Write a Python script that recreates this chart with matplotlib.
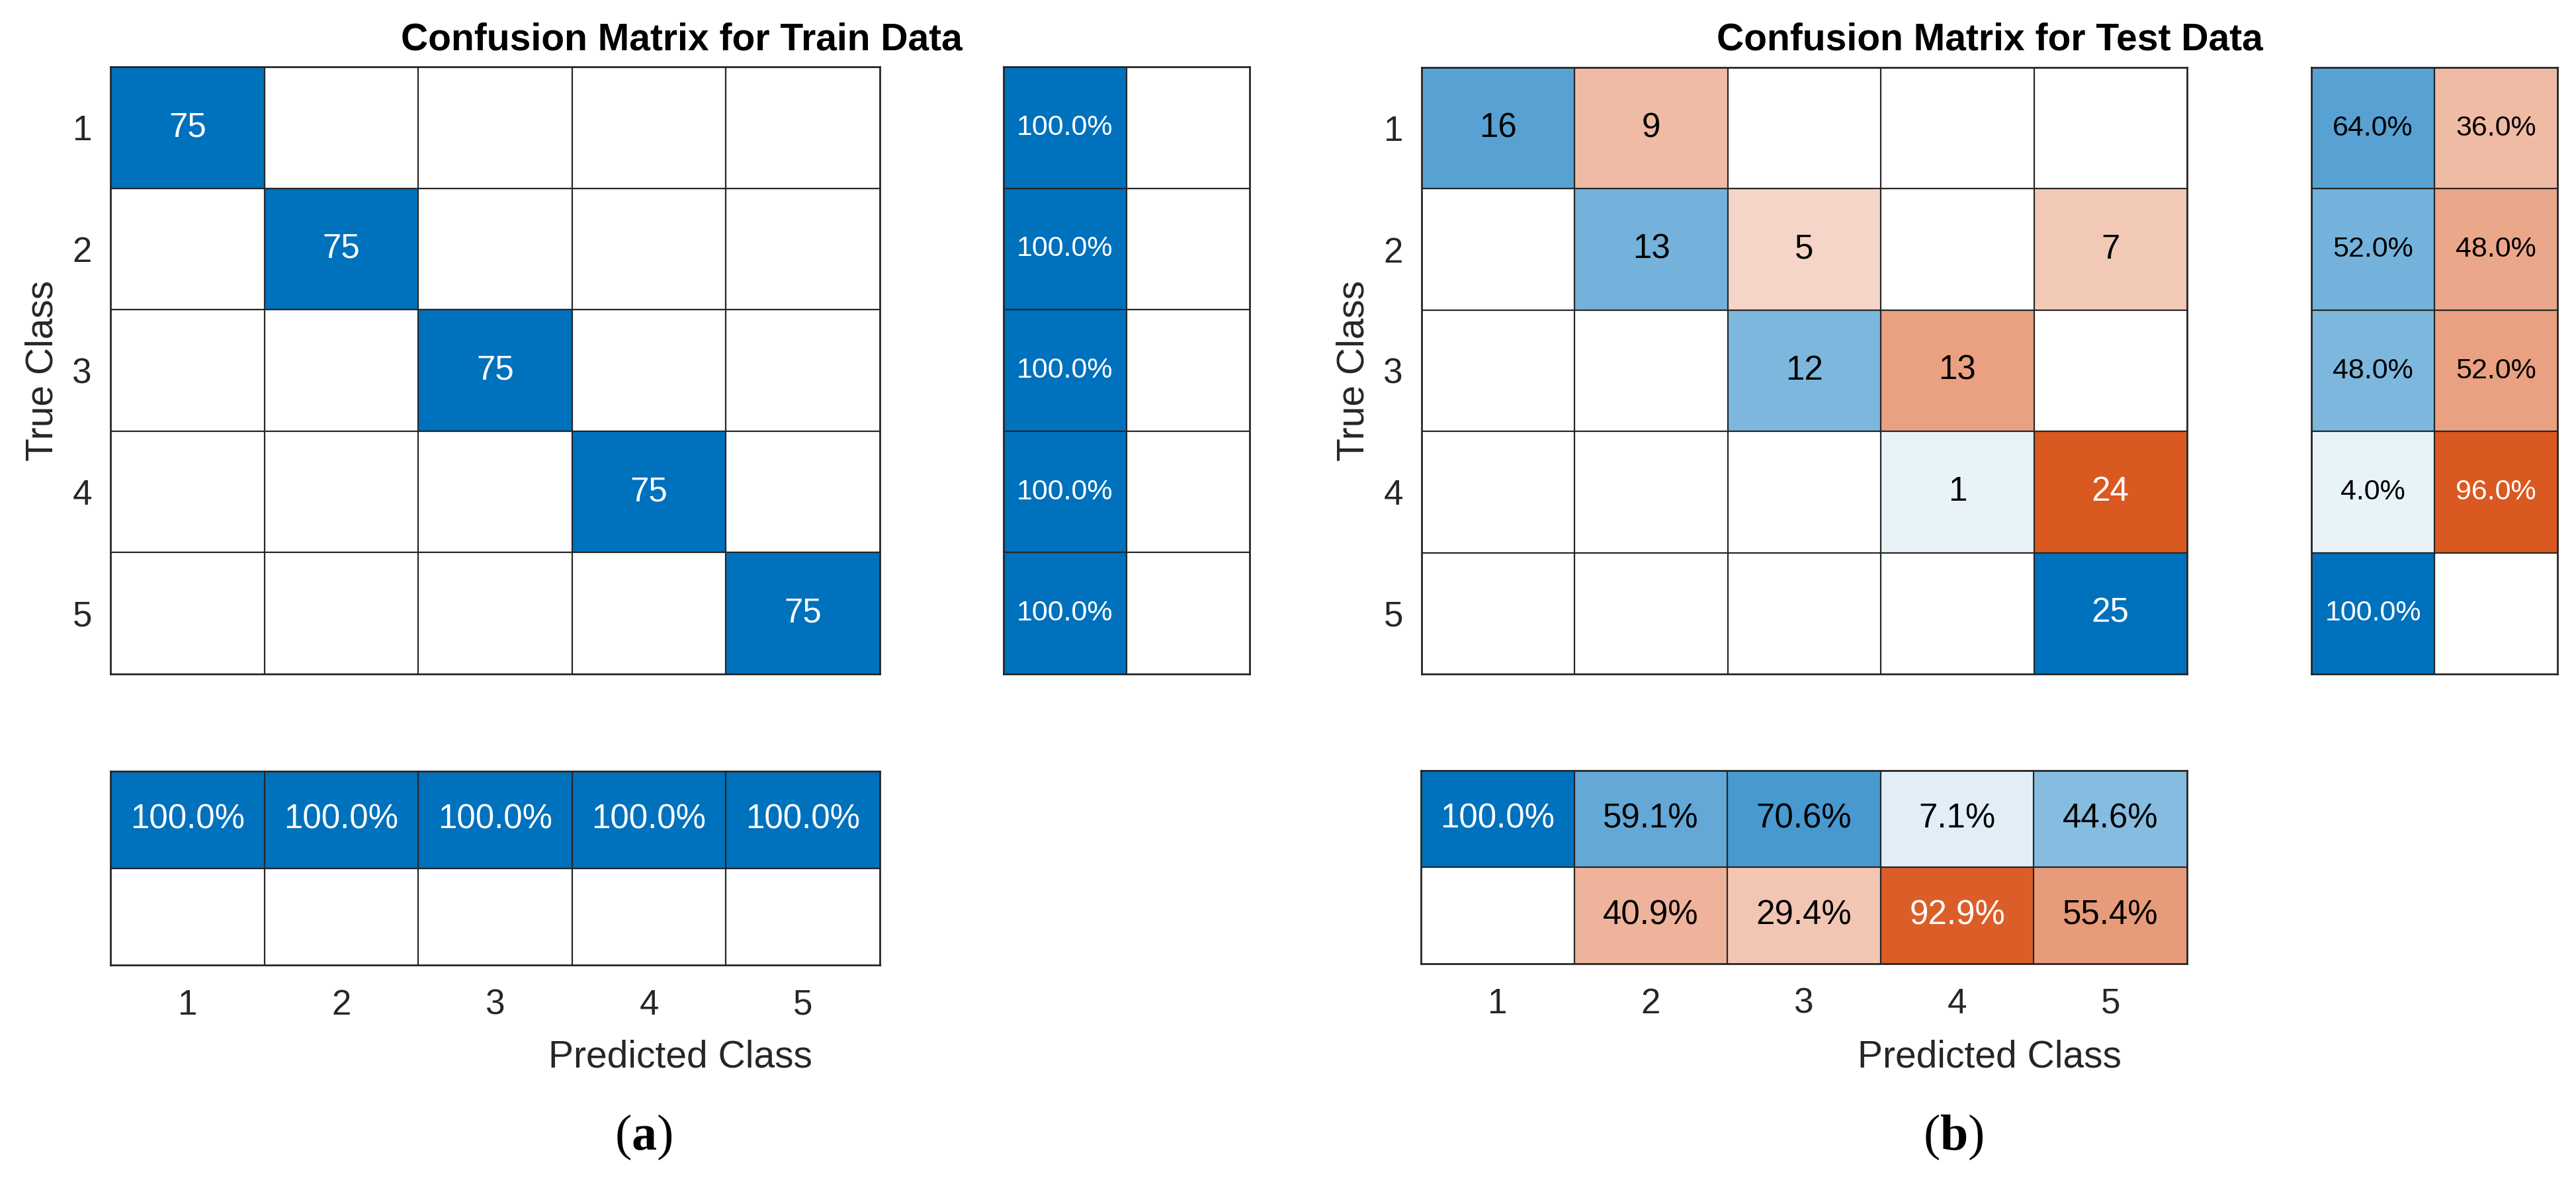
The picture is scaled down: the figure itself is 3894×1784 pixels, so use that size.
import numpy as np
import matplotlib
matplotlib.use("Agg")
import matplotlib.pyplot as plt

# ---------------- data ----------------
classes = ["1", "2", "3", "4", "5"]

train_counts = [
    [75, 0, 0, 0, 0],
    [0, 75, 0, 0, 0],
    [0, 0, 75, 0, 0],
    [0, 0, 0, 75, 0],
    [0, 0, 0, 0, 75],
]
train_row_correct = [100.0, 100.0, 100.0, 100.0, 100.0]
train_row_wrong = [0.0, 0.0, 0.0, 0.0, 0.0]
train_col_correct = [100.0, 100.0, 100.0, 100.0, 100.0]
train_col_wrong = [0.0, 0.0, 0.0, 0.0, 0.0]

test_counts = [
    [16, 9, 0, 0, 0],
    [0, 13, 5, 0, 7],
    [0, 0, 12, 13, 0],
    [0, 0, 0, 1, 24],
    [0, 0, 0, 0, 25],
]
test_row_correct = [64.0, 52.0, 48.0, 4.0, 100.0]
test_row_wrong = [36.0, 48.0, 52.0, 96.0, 0.0]
test_col_correct = [100.0, 59.1, 70.6, 7.1, 44.6]
test_col_wrong = [0.0, 40.9, 29.4, 92.9, 55.4]

titles = ["Confusion Matrix for Train Data", "Confusion Matrix for Test Data"]
panel_tags = ["a", "b"]

# ---------------- style ----------------
BLUE = np.array([0.0, 0.447, 0.741])
ORANGE = np.array([0.850, 0.325, 0.098])
GRID = "#262626"
AXCOL = "#262626"

W, H, DPI = 3894, 1784, 200
PT = 72.0 / DPI  # points per pixel

plt.rcParams["font.family"] = ["Liberation Sans", "DejaVu Sans"]
plt.rcParams["mathtext.fontset"] = "custom"
plt.rcParams["mathtext.rm"] = "Liberation Serif"
plt.rcParams["mathtext.bf"] = "Liberation Serif:bold"

fig = plt.figure(figsize=(W / DPI, H / DPI), dpi=DPI)
fig.patch.set_facecolor("white")


def add_ax(x0, y0, x1, y1):
    return fig.add_axes([x0 / W, 1 - y1 / H, (x1 - x0) / W, (y1 - y0) / H])


def shade(base, f):
    if f <= 0:
        return np.ones(3)
    fe = 0.05 + 0.95 * f
    return 1.0 - fe * (1.0 - base)


def draw_block(ax, fracs, kinds, labels, fontsize):
    fracs = np.asarray(fracs, float)
    nr, nc = fracs.shape
    rgb = np.ones((nr, nc, 3))
    for i in range(nr):
        for j in range(nc):
            base = BLUE if kinds[i][j] == "d" else ORANGE
            rgb[i, j] = shade(base, fracs[i, j])
    ax.imshow(rgb, extent=(0.5, nc + 0.5, nr + 0.5, 0.5), aspect="auto",
              interpolation="nearest")
    ax.set_xlim(0.5, nc + 0.5)
    ax.set_ylim(nr + 0.5, 0.5)
    if nc > 1:
        ax.vlines(np.arange(1.5, nc), 0.5, nr + 0.5, color=GRID, lw=0.8)
    if nr > 1:
        ax.hlines(np.arange(1.5, nr), 0.5, nc + 0.5, color=GRID, lw=0.8)
    for s in ax.spines.values():
        s.set_color(GRID)
        s.set_linewidth(1.0)
    for i in range(nr):
        for j in range(nc):
            if labels[i][j]:
                col = "white" if fracs[i, j] > 0.75 else "black"
                ax.text(j + 1, i + 1, labels[i][j], ha="center", va="center",
                        fontsize=fontsize, color=col)
    ax.set_xticks([])
    ax.set_yticks([])


def pct(v):
    return "" if v == 0 else f"{v:.1f}%"


panels = [
    dict(counts=train_counts, rc=train_row_correct, rw=train_row_wrong,
         cc=train_col_correct, cw=train_col_wrong,
         main=(167, 101, 1330, 1019), right=(1517, 101, 1889, 1019),
         bottom=(167, 1166, 1330, 1459), title_x=1030, tag_x=973),
    dict(counts=test_counts, rc=test_row_correct, rw=test_row_wrong,
         cc=test_col_correct, cw=test_col_wrong,
         main=(2149, 102, 3306, 1019), right=(3494, 102, 3866, 1019),
         bottom=(2148, 1165, 3306, 1457), title_x=3008, tag_x=2953),
]

FS_CELL = 51 * PT
FS_RIGHT = 43 * PT
FS_TICK = 53 * PT
FS_LABEL = 57 * PT
FS_TITLE = 57 * PT
FS_TAG = 76 * PT

for k, p in enumerate(panels):
    cm = np.asarray(p["counts"], float)
    n = cm.shape[0]
    kinds_main = [["d" if i == j else "o" for j in range(n)] for i in range(n)]
    fr_main = cm / cm.max()
    lab_main = [[("" if cm[i, j] == 0 else str(int(cm[i, j]))) for j in range(n)]
                for i in range(n)]
    ax = add_ax(*p["main"])
    draw_block(ax, fr_main, kinds_main, lab_main, FS_CELL)
    ax.set_yticks(np.arange(1, n + 1))
    ax.set_yticklabels(classes)
    ax.tick_params(axis="y", length=0, pad=28 * PT, labelsize=FS_TICK,
                   labelcolor=AXCOL)

    # row summary
    fr_r = np.column_stack([p["rc"], p["rw"]]) / 100.0
    kinds_r = [["d", "o"] for _ in range(n)]
    lab_r = [[pct(p["rc"][i]), pct(p["rw"][i])] for i in range(n)]
    axr = add_ax(*p["right"])
    draw_block(axr, fr_r, kinds_r, lab_r, FS_RIGHT)

    # column summary
    fr_c = np.vstack([p["cc"], p["cw"]]) / 100.0
    kinds_c = [["d"] * n, ["o"] * n]
    lab_c = [[pct(v) for v in p["cc"]], [pct(v) for v in p["cw"]]]
    axb = add_ax(*p["bottom"])
    draw_block(axb, fr_c, kinds_c, lab_c, FS_CELL)
    axb.set_xticks(np.arange(1, n + 1))
    axb.set_xticklabels(classes)
    axb.tick_params(axis="x", length=0, pad=36 * PT, labelsize=FS_TICK,
                    labelcolor=AXCOL)

    # labels
    mx0 = p["main"][0]
    rx1 = p["right"][2]
    fig.text(p["title_x"] / W, 1 - 75 / H, titles[k], ha="center",
             va="baseline", fontsize=FS_TITLE, fontweight="bold", color="black")
    fig.text((mx0 + rx1) / 2 / W, 1 - 1613 / H, "Predicted Class", ha="center",
             va="baseline", fontsize=FS_LABEL, color=AXCOL)
    fig.text((mx0 - 102) / W, 1 - 560 / H, "True Class", ha="center",
             va="center", rotation=90, fontsize=FS_LABEL, color=AXCOL)
    fig.text(p["tag_x"] / W, 1 - 1719 / H, r"$(\mathbf{%s})$" % panel_tags[k],
             ha="center", va="center", fontsize=FS_TAG, color="black")

fig.savefig("out.png", dpi=DPI, facecolor="white")
